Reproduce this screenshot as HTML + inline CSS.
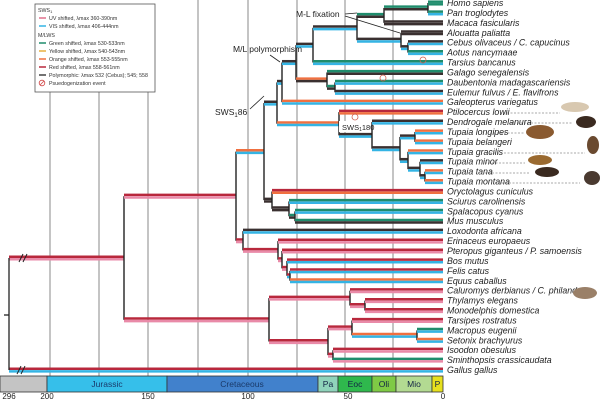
<!DOCTYPE html><html><head><meta charset="utf-8"><style>
body{margin:0;background:#fff;width:605px;height:400px;overflow:hidden;font-family:"Liberation Sans",sans-serif}
svg{display:block}
</style></head><body>
<svg id="s" width="605" height="400" viewBox="0 0 605 400" xmlns="http://www.w3.org/2000/svg">
<g stroke="#8a8a8a" stroke-width="1">
<line x1="50" y1="92" x2="50" y2="376"/><line x1="99" y1="92" x2="99" y2="376"/><line x1="148" y1="92" x2="148" y2="376"/>
<line x1="198" y1="0" x2="198" y2="376"/><line x1="248" y1="0" x2="248" y2="376"/><line x1="297" y1="0" x2="297" y2="376"/>
<line x1="345" y1="0" x2="345" y2="376"/><line x1="393" y1="0" x2="393" y2="376"/>
</g>
<g id="tree"></g>
<g id="lab" font-style="italic" font-size="8.8" fill="#222"></g>
<g stroke="#333" stroke-width="0.8" font-size="8.5" text-anchor="middle">
<rect x="0" y="376" width="47" height="16" fill="#c4c4c4"/>
<rect x="47" y="376" width="120" height="16" fill="#36bfea"/>
<rect x="167" y="376" width="151" height="16" fill="#4181cc"/>
<rect x="318" y="376" width="20" height="16" fill="#8fd3bb"/>
<rect x="338" y="376" width="34" height="16" fill="#2fb84d"/>
<rect x="372" y="376" width="24" height="16" fill="#7fca45"/>
<rect x="396" y="376" width="36" height="16" fill="#b3da92"/>
<rect x="432" y="376" width="11" height="16" fill="#e6e01e"/>
<g stroke="none" fill="#1a3a6a">
<text x="107" y="387">Jurassic</text><text x="242" y="387">Cretaceous</text>
<text x="328" y="387" fill="#124">Pa</text><text x="355" y="387" fill="#124">Eoc</text><text x="384" y="387" fill="#124">Oli</text><text x="414" y="387" fill="#124">Mio</text><text x="437.5" y="387" fill="#124">P</text>
</g>
<g stroke="none" fill="#222" font-size="8"><text x="9" y="399">296</text><text x="47" y="399">200</text><text x="148" y="399">150</text><text x="248" y="399">100</text><text x="348" y="399">50</text><text x="443" y="399">0</text></g>
</g>
<rect x="35" y="4" width="120" height="88" fill="#fff" stroke="#555" stroke-width="0.8"/>
<g font-size="5.3" fill="#333">
<text x="38" y="12">SWS<tspan font-size="4" dy="1">1</tspan></text>
<line x1="39" y1="18" x2="46" y2="18" stroke="#e0708c" stroke-width="1.5"/><text x="49" y="20">UV shifted, λmax 360-390nm</text>
<line x1="39" y1="26" x2="46" y2="26" stroke="#34b4e4" stroke-width="1.5"/><text x="49" y="28">VIS shifted, λmax 406-444nm</text>
<text x="38" y="37">M/LWS</text>
<line x1="39" y1="43" x2="46" y2="43" stroke="#1f8c6c" stroke-width="1.5"/><text x="49" y="45">Green shifted, λmax 530-533nm</text>
<line x1="39" y1="51" x2="46" y2="51" stroke="#e8b040" stroke-width="1.5"/><text x="49" y="53">Yellow shifted, λmax 540-543nm</text>
<line x1="39" y1="59" x2="46" y2="59" stroke="#f07040" stroke-width="1.5"/><text x="49" y="61">Orange shifted, λmax 553-555nm</text>
<line x1="39" y1="67" x2="46" y2="67" stroke="#b8283c" stroke-width="1.5"/><text x="49" y="69">Red shifted, λmax 558-561nm</text>
<line x1="39" y1="75" x2="46" y2="75" stroke="#444" stroke-width="1.5"/><text x="49" y="77">Polymorphic: λmax 532 (Cebus); 545; 558</text>
<circle cx="42" cy="83" r="2.8" fill="none" stroke="#d04040" stroke-width="0.8"/><line x1="40" y1="85" x2="44" y2="81" stroke="#d04040" stroke-width="0.8"/><text x="49" y="85">Psuedogenization event</text>
</g>
<g font-size="8.5" fill="#222">
<text x="233" y="52">M/L polymorphism</text>
<text x="296" y="17">M-L fixation</text>
<text x="215" y="115">SWS<tspan font-size="6" dy="2">1</tspan><tspan dy="-2">86</tspan></text>
<rect x="339" y="121" width="32" height="11" fill="#fff"/>
<text x="342" y="130" font-size="7.5">SWS<tspan font-size="5" dy="1">1</tspan><tspan dy="-1">180</tspan></text>
</g>
<g stroke="#222" stroke-width="0.8" fill="none">
<path d="M270 55 L280 62"/><path d="M250 109 L264 96"/><path d="M345 14 L357 13"/><path d="M345 16 L400 33"/>
</g>
<g stroke="#d06050" stroke-width="0.8" fill="none">
<circle cx="423" cy="60" r="3"/><circle cx="383" cy="78" r="3"/><circle cx="355" cy="117" r="3"/>
</g>
<g fill="#8a5a30">
<ellipse cx="575" cy="107" rx="14" ry="5" fill="#d8c8b0"/>
<ellipse cx="586" cy="122" rx="10" ry="6" fill="#3a2a20"/>
<ellipse cx="540" cy="132" rx="14" ry="7"/>
<ellipse cx="593" cy="145" rx="6" ry="9" fill="#6a4a30"/>
<ellipse cx="540" cy="160" rx="12" ry="5" fill="#9a6a30"/>
<ellipse cx="547" cy="172" rx="12" ry="5" fill="#3a2a20"/>
<ellipse cx="592" cy="178" rx="8" ry="7" fill="#4a3a30"/>
<ellipse cx="585" cy="293" rx="12" ry="6" fill="#9a8068"/>
</g>
<g stroke="#555" stroke-width="0.6" stroke-dasharray="2,1.5">
<line x1="500" y1="113" x2="560" y2="113"/><line x1="510" y1="123" x2="572" y2="123"/><line x1="490" y1="133" x2="525" y2="133"/>
<line x1="490" y1="153" x2="585" y2="153"/><line x1="485" y1="163" x2="525" y2="163"/><line x1="485" y1="173" x2="530" y2="173"/><line x1="495" y1="183" x2="580" y2="183"/>
<line x1="575" y1="292" x2="575" y2="292"/>
</g>
</svg>
<script>
var R="#b8283c",P="#e98aa8",B="#34b4e4",G="#1f8c6c",O="#f07040",K="#3a3030";
function yi(i){return 3+9.92*i}
function L(i,c){return {i:i,c:c,y:yi(i)}}
function N(x,c,k){return {x:x,c:c,k:k,y:(k[0].y+k[k.length-1].y)/2}}
var gall=L(37,[R,B]);
var homopan=N(428,[G,K],[L(0,[G,G]),L(1,[G,B])]);
var catar=N(384,[G,K],[homopan,L(2,[K,K])]);
var platy=N(401,[K,B],[L(3,[K,K]),N(408,[K,B],[L(4,[K,B]),L(5,[G,B])])]);
var anthro=N(357,[K,B],[catar,platy]);
var haplo=N(313,[K,B],[anthro,L(6,[G,B])]);
var streps=N(327,[O,K],[L(7,[G,K]),N(335,[G,K],[L(8,[G,B]),L(9,[K,B])])]);
var primates=N(296,[K,B],[haplo,streps]);
var primatomorpha=N(282,[K,B],[primates,L(10,[O,B])]);
var tupaia=N(400,[K,B],[N(415,[K,B],[L(13,[O,B]),L(14,[O,B])]),N(408,[K,B],[L(15,[O,B]),N(420,[K,B],[L(16,[K,B]),N(425,[K,B],[L(17,[O,B]),L(18,[O,B])])])])]);
var tupaiidae=N(372,[K,B],[L(12,[K,B]),tupaia]);
var scand=N(339,[O,B],[L(11,[R,O]),tupaiidae]);
var euarch=N(277,[K,B],[primatomorpha,scand]);
var glires=N(272,[K,K],[L(19,[R,O]),N(289,[K,K],[L(20,[G,B]),N(295,[G,K],[L(21,[G,B]),L(22,[G,K])])])]);
var euarglir=N(264,[O,B],[euarch,glires]);
var laur=N(278,[R,P],[L(24,[R,P]),N(282,[R,P],[L(25,[R,P]),N(287,[R,P],[L(26,[R,B]),N(290,[R,B],[L(27,[R,B]),L(28,[O,B])])])])]);
var laf=N(243,[R,P],[L(23,[K,B]),laur]);
var euth=N(236,[R,P],[euarglir,laf]);
var amer=N(350,[R,P],[L(29,[R,P]),N(365,[R,P],[L(30,[R,P]),L(31,[R,P])])]);
var austr=N(328,[R,P],[N(352,[R,P],[L(32,[R,P]),N(417,[O,B],[L(33,[G,B]),L(34,[O,B])])]),N(333,[R,P],[L(35,[R,P]),L(36,[G,P])])]);
var mars=N(269,[R,P],[amer,austr]);
var mam=N(124,[R,P],[euth,mars]);
var out=[];
function h(x1,x2,y,c){out.push('<line x1="'+x1+'" x2="'+x2+'" y1="'+(y-1.3)+'" y2="'+(y-1.3)+'" stroke="'+c[0]+'" stroke-width="2.5"/>');
out.push('<line x1="'+x1+'" x2="'+x2+'" y1="'+(y+1.3)+'" y2="'+(y+1.3)+'" stroke="'+c[1]+'" stroke-width="2.5"/>');}
function draw(n,px){var x=n.k?n.x:443;h(px,x,n.y,n.c);
 if(n.k){out.push('<line x1="'+x+'" x2="'+x+'" y1="'+n.k[0].y+'" y2="'+n.k[n.k.length-1].y+'" stroke="#222" stroke-width="1.4"/>');n.k.forEach(function(c){draw(c,x)});}}
draw(mam,9);draw(gall,9);
out.push('<line x1="9" x2="9" y1="'+mam.y+'" y2="'+gall.y+'" stroke="#222" stroke-width="1.3"/>');
out.push('<line x1="4" x2="9" y1="315" y2="315" stroke="#222" stroke-width="1.3"/>');
out.push('<path d="M19 '+(mam.y+4)+' l4 -8 M23 '+(mam.y+4)+' l4 -8 M17 '+(gall.y+4)+' l4 -8 M21 '+(gall.y+4)+' l4 -8" stroke="#222" stroke-width="1"/>');
document.getElementById('tree').innerHTML=out.join('');
var names=["Homo sapiens","Pan troglodytes","Macaca fasicularis","Alouatta paliatta","Cebus olivaceus / C. capucinus","Aotus nancymaae","Tarsius bancanus","Galago senegalensis","Daubentonia madagascariensis","Eulemur fulvus / E. flavifrons","Galeopterus variegatus","Ptilocercus lowii","Dendrogale melanura","Tupaia longipes","Tupaia belangeri","Tupaia gracilis","Tupaia minor","Tupaia tana","Tupaia montana","Oryctolagus cuniculus","Sciurus carolinensis","Spalacopus cyanus","Mus musculus","Loxodonta africana","Erinaceus europaeus","Pteropus giganteus / P. samoensis","Bos mutus","Felis catus","Equus caballus","Caluromys derbianus / C. philander","Thylamys elegans","Monodelphis domestica","Tarsipes rostratus","Macropus eugenii","Setonix brachyurus","Isoodon obesulus","Sminthopsis crassicaudata","Gallus gallus"];
document.getElementById('lab').innerHTML=names.map(function(n,i){return '<text x="447" y="'+(yi(i)+3)+'">'+n+'</text>'}).join('');
</script>
</body></html>
